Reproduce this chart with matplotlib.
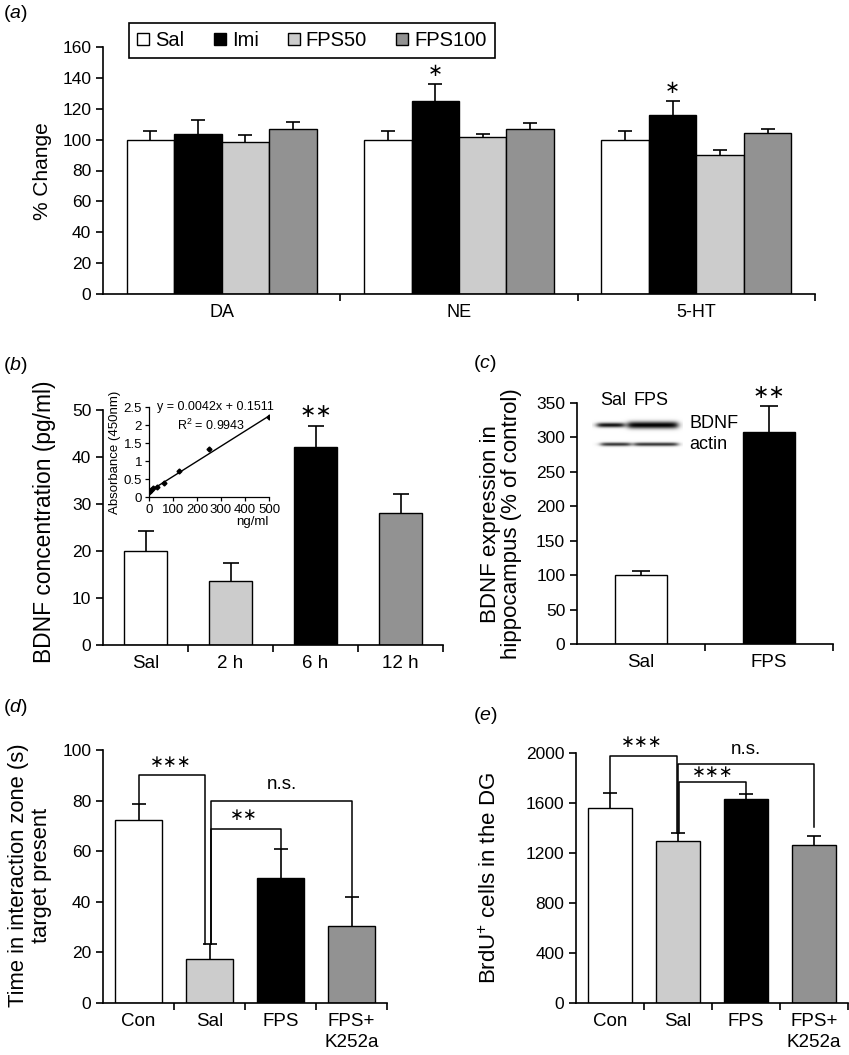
import numpy as np
import matplotlib
matplotlib.use("Agg")
import matplotlib.pyplot as plt

plt.rcParams["font.family"] = ["Liberation Sans", "DejaVu Sans"]
plt.rcParams["mathtext.fontset"] = "custom"
plt.rcParams["mathtext.rm"] = "Liberation Sans"
plt.rcParams["mathtext.it"] = "Liberation Sans:italic"

# (a) monoamines, % of saline
groups_a = ["DA", "NE", "5-HT"]
series_a = ["Sal", "Imi", "FPS50", "FPS100"]
sal_a = [100, 100, 100]
imi_a = [103.8, 124.9, 115.9]
fps50_a = [98.6, 101.6, 89.8]
fps100_a = [106.8, 106.8, 104.4]
sal_a_err = [5.7, 5.7, 5.7]
imi_a_err = [8.8, 11.0, 8.8]
fps50_a_err = [4.1, 1.8, 3.7]
fps100_a_err = [4.5, 3.7, 2.4]
sig_a = ["", "*", "*"]

# (b) serum BDNF after FPS
labels_b = ["Sal", "2 h", "6 h", "12 h"]
bdnf_b = [20.0, 13.7, 42.2, 28.1]
bdnf_b_err = [4.3, 3.7, 4.5, 4.0]
std_conc = [0, 3.9, 7.8, 15.6, 31.25, 62.5, 125, 250, 500]
std_abs = [0.15, 0.17, 0.19, 0.24, 0.29, 0.39, 0.73, 1.34, 2.23]
fit_slope, fit_icpt = 0.0042, 0.1511

# (c) hippocampal BDNF
labels_c = ["Sal", "FPS"]
bdnf_c = [100, 308]
bdnf_c_err = [6, 37]

# (d) social interaction
labels_de = ["Con", "Sal", "FPS", "FPS+\nK252a"]
time_d = [72.5, 17.2, 49.6, 30.5]
time_d_err = [6.3, 6.2, 11.2, 11.2]

# (e) BrdU+ cells
brdu_e = [1564, 1300, 1630, 1266]
brdu_e_err = [117, 62, 46, 74]

WHITE, BLACK, LIGHT, MID = "white", "black", "#cccccc", "#929292"

W, H = 849, 1055
fig = plt.figure(figsize=(W / 100, H / 100), dpi=100)


def add_ax(l, t, r, b):
    return fig.add_axes([l / W, 1 - b / H, (r - l) / W, (b - t) / H])


def style(ax, n, ymax, yticks, xlabels, xfs=13.5, yfs=12.5):
    for s in ("top", "right"):
        ax.spines[s].set_visible(False)
    for s in ("left", "bottom"):
        ax.spines[s].set_linewidth(1.2)
    ax.set_xlim(-0.5, n - 0.5)
    ax.set_ylim(0, ymax)
    ax.set_yticks(yticks)
    ax.set_xticks(np.arange(n))
    ax.set_xticklabels(xlabels, linespacing=1.35)
    ax.set_xticks(np.arange(n) + 0.5, minor=True)
    ax.tick_params(axis="x", which="major", length=0, pad=7, labelsize=xfs)
    ax.tick_params(axis="x", which="minor", length=5, width=1.2, direction="out")
    ax.tick_params(axis="y", length=5, width=1.2, direction="out", labelsize=yfs)


def bars(ax, x, vals, errs, colors, width, cap=10, label=None):
    x = np.asarray(x, dtype=float)
    vals = np.asarray(vals, dtype=float)
    top = vals + np.asarray(errs, dtype=float)
    ax.bar(x, vals, width, color=colors, edgecolor="black", linewidth=1.0,
           zorder=2, label=label)
    ax.vlines(x, vals, top, color="black", lw=1.2, zorder=3)
    ax.plot(x, top, ls="none", marker="_", ms=cap, mew=1.2, color="black",
            zorder=3)


def ylab(px, py, text, fs=15, ls=1.1):
    fig.text(px / W, 1 - py / H, text, rotation=90, ha="center", va="center",
             fontsize=fs, linespacing=ls)


def bracket(ax, x0, y0, x1, y1, h, label, tx, ty, fs):
    ax.plot([x0, x0, x1, x1], [y0, h, h, y1], color="black", lw=1.1,
            clip_on=False, zorder=4)
    ax.text(tx, ty, label, ha="center", va="center", fontsize=fs)


# ---------- (a)
ax = add_ax(103, 47, 815, 294)
xa = np.arange(len(groups_a))
series_vals = [sal_a, imi_a, fps50_a, fps100_a]
series_errs = [sal_a_err, imi_a_err, fps50_a_err, fps100_a_err]
series_cols = [WHITE, BLACK, LIGHT, MID]
for i, (v, e, c, name) in enumerate(zip(series_vals, series_errs, series_cols, series_a)):
    bars(ax, xa + (i - 1.5) * 0.2, v, e, c, 0.2, label=name)
style(ax, 3, 160, np.arange(0, 161, 20), groups_a, xfs=13, yfs=12.5)
for g, s in enumerate(sig_a):
    if s:
        ax.text(g - 0.1, imi_a[g] + imi_a_err[g] + 8.5, "\u2217", ha="center",
                va="center", fontsize=13)
leg = ax.legend(loc="upper left", bbox_to_anchor=(129 / W, 1 - 23 / H),
                bbox_transform=fig.transFigure, ncol=4, fontsize=14.5,
                frameon=True, fancybox=False, edgecolor="black", framealpha=1,
                handlelength=0.6, handleheight=0.6, handletextpad=0.3,
                columnspacing=1.45, borderpad=0.4, borderaxespad=0)
leg.get_frame().set_linewidth(1.2)
ylab(43, 171, "% Change", 15)
fig.text(3 / W, 1 - 14 / H, r"($\mathit{a}$)", fontsize=14, va="center")

# ---------- (b)
ax = add_ax(103, 410, 443, 645)
xb = np.arange(len(labels_b))
bars(ax, xb, bdnf_b, bdnf_b_err, [WHITE, LIGHT, BLACK, MID], 0.5, cap=12)
style(ax, 4, 50, np.arange(0, 51, 10), labels_b)
ax.text(2, bdnf_b[2] + bdnf_b_err[2] + 2.7, "\u2217\u2217", ha="center",
        va="center", fontsize=14)
ylab(45, 522, "BDNF concentration (pg/ml)", 16.4)
fig.text(3 / W, 1 - 365 / H, r"($\mathit{b}$)", fontsize=14, va="center")

# inset standard curve
ins = add_ax(149, 407, 269, 497)
ins.plot(std_conc, std_abs, "D", color="black", ms=2.5)
xf = np.array([0, 500])
ins.plot(xf, fit_slope * xf + fit_icpt, color="black", lw=1)
ins.set_xlim(0, 500)
ins.set_ylim(0, 2.5)
ins.set_xticks(np.arange(0, 501, 100))
ins.set_yticks([0, 0.5, 1, 1.5, 2, 2.5])
ins.set_yticklabels(["0", "0.5", "1", "1.5", "2", "2.5"])
for s in ("top", "right"):
    ins.spines[s].set_visible(False)
for s in ("left", "bottom"):
    ins.spines[s].set_linewidth(0.9)
ins.tick_params(labelsize=9.5, length=3, width=0.9, pad=2)
ins.patch.set_alpha(0)
ins.set_ylabel("Absorbance (450nm)", fontsize=9.5, labelpad=2)
ins.set_xlabel("ng/ml", fontsize=9.5, labelpad=0, loc="right")
ins.text(0.555, 1.0, "y = 0.0042x + 0.1511", transform=ins.transAxes,
         ha="center", va="center", fontsize=9)
ins.text(0.52, 0.80, r"R$^2$ = 0.9943", transform=ins.transAxes,
         ha="center", va="center", fontsize=9)

# ---------- (c)
ax = add_ax(577, 403, 833, 644)
xc = np.arange(len(labels_c))
bars(ax, xc, bdnf_c, bdnf_c_err, [WHITE, BLACK], 0.4, cap=13)
style(ax, 2, 350, np.arange(0, 351, 50), labels_c)
ax.text(1, bdnf_c[1] + bdnf_c_err[1] + 19, "\u2217\u2217", ha="center",
        va="center", fontsize=14)
# western blot picture
xs = np.linspace(-0.38, 0.33, 300)
ys = np.linspace(276, 334, 220)
X, Y = np.meshgrid(xs, ys)


def band(x0, x1, yc, sy, amp):
    lane = 1 / (1 + np.exp(-(X - x0) / 0.015)) / (1 + np.exp((X - x1) / 0.015))
    return amp * lane * np.exp(-0.5 * ((Y - yc) / sy) ** 2)


img = (band(-0.34, -0.13, 318, 2.4, 0.95) + band(-0.10, 0.29, 318, 3.6, 1.0)
       + band(-0.31, -0.08, 290, 1.9, 0.8) + band(-0.05, 0.29, 290, 1.9, 0.8))
ax.imshow(np.clip(img, 0, 1), extent=(xs[0], xs[-1], ys[0], ys[-1]),
          origin="lower", cmap="gray_r", vmin=0, vmax=1, aspect="auto",
          interpolation="bilinear", zorder=1)
ax.set_xlim(-0.5, 1.5)
ax.set_ylim(0, 350)
ax.text(-0.22, 354, "Sal", ha="center", va="center", fontsize=13)
ax.text(0.08, 354, "FPS", ha="center", va="center", fontsize=13)
ax.text(0.38, 320, "BDNF", ha="left", va="center", fontsize=13)
ax.text(0.38, 290, "actin", ha="left", va="center", fontsize=13)
ylab(501, 524, "BDNF expression in\nhippocampus (% of control)", 16, 1.05)
fig.text(473 / W, 1 - 363 / H, r"($\mathit{c}$)", fontsize=14, va="center")

# ---------- (d)
ax = add_ax(103, 750, 387, 1003)
xd = np.arange(len(labels_de))
cols_de = [WHITE, LIGHT, BLACK, MID]
bars(ax, xd, time_d, time_d_err, cols_de, 0.66)
style(ax, 4, 100, np.arange(0, 101, 20), labels_de)
top_d = np.array(time_d) + np.array(time_d_err)
bracket(ax, 0, top_d[0], 1 - 0.07, top_d[1], 90.1, "\u2217\u2217\u2217", 0.46, 95, 12)
bracket(ax, 1 + 0.015, top_d[1], 3, top_d[3], 79.8, "n.s.", 2.02, 86.3, 13.5)
bracket(ax, 1 + 0.015, top_d[1], 2, top_d[2], 68.8, "\u2217\u2217", 1.48, 74.3, 12)
ylab(30, 875, "Time in interaction zone (s)\ntarget present", 15.8, 1.1)
fig.text(3 / W, 1 - 708 / H, r"($\mathit{d}$)", fontsize=14, va="center")

# ---------- (e)
ax = add_ax(576, 753, 848, 1003)
bars(ax, xd, brdu_e, brdu_e_err, cols_de, 0.65)
style(ax, 4, 2000, np.arange(0, 2001, 400), labels_de)
top_e = np.array(brdu_e) + np.array(brdu_e_err)
bracket(ax, 0, top_e[0], 1 - 0.015, top_e[1], 1973, "\u2217\u2217\u2217", 0.46, 2087, 12)
bracket(ax, 1.0, top_e[1], 3, top_e[3] + 70, 1915, "n.s.", 2.0, 2025, 13.5)
bracket(ax, 1 + 0.013, top_e[1], 2, top_e[2], 1769, "\u2217\u2217\u2217", 1.51, 1842, 12)
ylab(490, 878, r"BrdU$^{+}$ cells in the DG", 16)
fig.text(473 / W, 1 - 715 / H, r"($\mathit{e}$)", fontsize=14, va="center")

fig.savefig("out.png", dpi=100)
